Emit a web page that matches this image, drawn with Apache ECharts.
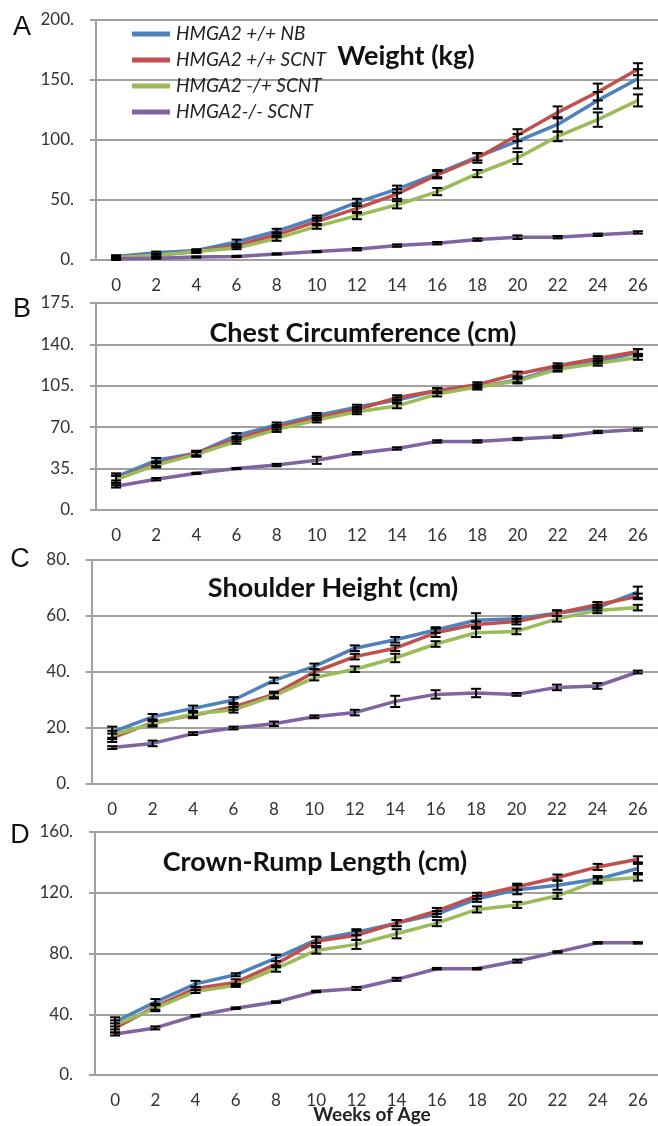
<!DOCTYPE html>
<html>
<head>
<meta charset="utf-8">
<script src="https://cdn.jsdelivr.net/npm/echarts@6/dist/echarts.min.js"></script>
<style>html,body{margin:0;padding:0;background:#fff;}#c{width:658px;height:1126px;}</style>
</head>
<body>
<div id="c"></div>
<script>
const weeks = ['0','2','4','6','8','10','12','14','16','18','20','22','24','26'];
const seriesNames = ['HMGA2 +/+ NB','HMGA2 +/+ SCNT','HMGA2 -/+ SCNT','HMGA2-/- SCNT'];
const colors = ['#4F81BD','#C0504D','#9BBB59','#8064A2'];

// Panel A: Weight (kg)
const weightNB     = [3,6,8,15,24,35,48,59,72,86,99,113,133,151];
const weightSCNT   = [2,4,7,12,21,32,43,55,71,85,104,123,140,159];
const weightHet    = [2,4,7,10,18,28,37,46,57,72,85,103,117,133];
const weightKO     = [1,1.5,2.5,3,5,7,9,12,14,17,19,19,21,23];
const weightNBErr   = [1,1,1,2,2,2,3,3,3,3,6,6,7,8];
const weightSCNTErr = [1,1,1,1,2,3,4,4,3,4,5,5,7,5];
const weightHetErr  = [1,1,1,1,2,2,3,3,3,3,5,4,6,5];
const weightKOErr   = [1,0.5,0.5,0.5,0.5,0.5,1,1,1,1,1.5,1,1,1];

// Panel B: Chest Circumference (cm)
const chestNB     = [28,42,48,63,72,80,87,93,101,104,110,120,126,133];
const chestSCNT   = [26,39,48,60,70,78,85,95,101,106,115,122,128,134];
const chestHet    = [26,38,47,58,68,76,83,88,98,104,109,119,124,129];
const chestKO     = [20,26,31,35,38,42,48,52,58,58,60,62,66,68];
const chestNBErr   = [3,2,2,2,2,2,2,2,2,2,2,2,2,3];
const chestSCNTErr = [3,2,2,2,2,2,2,2,2,2,2,2,2,2];
const chestHetErr  = [3,2,2,2,2,2,2,2,2,2,2,2,2,2];
const chestKOErr   = [1,1,0.5,0.5,1,3,1,1,1,1,1,1,1,1];

// Panel C: Shoulder Height (cm)
const shoulderNB     = [18.5,24,27,30,37,42,48.5,51.5,55,58.5,59,61,63,68.5];
const shoulderSCNT   = [16.5,22,24.5,27.5,32,40,45.5,48.5,54,57,58,61,64,67];
const shoulderHet    = [17.5,21.5,25,26.5,31.5,38,41,45,50,54,54.5,59,62,63];
const shoulderKO     = [13,14.5,18,20,21.5,24,25.5,29.5,32,32.5,32,34.5,35,40];
const shoulderNBErr   = [2,1,1,1,1,1,1,1,1,2.5,1,1,1,2];
const shoulderSCNTErr = [1.5,1,1,1,1,1,1,1,1.5,1,1,1,1,1];
const shoulderHetErr  = [1.5,1,1,1,1,1,1,1.5,1,1.5,1,1,1,1];
const shoulderKOErr   = [0.5,1,0.5,0.5,0.8,0.5,1,2,1.5,1.5,0.5,1,1,0.5];

// Panel D: Crown-Rump Length (cm)
const crownNB     = [35,48,60,66,77,89,94,100,106,116,122,125,129,136];
const crownSCNT   = [31,45,57,61,73,88,92,100,108,118,124,130,137,142];
const crownHet    = [33,44,55,59,70,82,86,93,100,109,112,118,128,130];
const crownKO     = [27,31,39,44,48,55,57,63,70,70,75,81,87,87];
const crownNBErr   = [3,2,2,1,2,2,2,2,2,2,3,3,2,3];
const crownSCNTErr = [3,2,1,2,2,3,3,2,2,2,2,2,2,2];
const crownHetErr  = [3,2,1,1,2,2,3,3,2,2,2,2,2,2];
const crownKOErr   = [1,1,0.5,0.5,0.5,0.5,1,1,0.5,0.5,1,0.5,0.5,0.5];

const yMax = [200,175,80,160];
const yInterval = [50,35,20,40];
const titles = ['Weight (kg)','Chest Circumference (cm)','Shoulder Height (cm)','Crown-Rump Length (cm)'];
const panelLetters = ['A','B','C','D'];
const xTitle = 'Weeks of Age';

const panels = [
  {vals:[weightNB,weightSCNT,weightHet,weightKO], errs:[weightNBErr,weightSCNTErr,weightHetErr,weightKOErr]},
  {vals:[chestNB,chestSCNT,chestHet,chestKO], errs:[chestNBErr,chestSCNTErr,chestHetErr,chestKOErr]},
  {vals:[shoulderNB,shoulderSCNT,shoulderHet,shoulderKO], errs:[shoulderNBErr,shoulderSCNTErr,shoulderHetErr,shoulderKOErr]},
  {vals:[crownNB,crownSCNT,crownHet,crownKO], errs:[crownNBErr,crownSCNTErr,crownHetErr,crownKOErr]}
];

const gridBoxes = [
  {left:96, top:20, width:567, height:240},
  {left:96, top:303, width:567, height:207},
  {left:92, top:560, width:567, height:224},
  {left:95, top:832, width:567, height:243}
];
const titlePos = [[406,56],[363,333],[333,588],[315,862]];
const letterPos = [[22,28],[22,310],[20,560],[20,836]];

const gray = '#a0a0a0';
const font = 'Lato, "Open Sans", sans-serif';

const xAxes = [], yAxes = [], series = [], graphics = [];
panels.forEach((p, k) => {
  xAxes.push({
    type:'category', gridIndex:k, data:weeks, boundaryGap:true,
    axisLine:{lineStyle:{color:gray,width:2}},
    axisTick:{length:6,lineStyle:{color:gray,width:2}},
    axisLabel:{interval:0,fontSize:17,color:'#333',fontFamily:font,margin:17},
    splitLine:{show:false}
  });
  yAxes.push({
    type:'value', gridIndex:k, min:0, max:yMax[k], interval:yInterval[k],
    axisLine:{show:true,lineStyle:{color:gray,width:2}},
    axisTick:{show:true,length:6,lineStyle:{color:gray,width:2}},
    axisLabel:{fontSize:17,color:'#333',fontFamily:font,margin:22,formatter:v=>v+'.'},
    splitLine:{lineStyle:{color:gray,width:2}}
  });
  p.vals.forEach((v, s) => {
    series.push({
      type:'line', name:seriesNames[s], xAxisIndex:k, yAxisIndex:k,
      data:v, symbol:'none', smooth:false, z:2+s*0.1,
      lineStyle:{color:colors[s],width:3.5}, itemStyle:{color:colors[s]}
    });
  });
  p.vals.forEach((v, s) => {
    const e = p.errs[s];
    series.push({
      type:'custom', name:'err'+k+'_'+s, xAxisIndex:k, yAxisIndex:k, z:5,
      data:v.map((val,i)=>[i, val-e[i], val+e[i]]),
      encode:{x:0,y:[1,2]},
      renderItem:function(params, api){
        const x = api.value(0);
        const lo = api.coord([x, api.value(1)]);
        const hi = api.coord([x, api.value(2)]);
        const w = 5;
        const st = {stroke:'#000', lineWidth:2};
        return {type:'group', children:[
          {type:'line', shape:{x1:lo[0],y1:lo[1],x2:hi[0],y2:hi[1]}, style:st},
          {type:'line', shape:{x1:lo[0]-w,y1:lo[1],x2:lo[0]+w,y2:lo[1]}, style:st},
          {type:'line', shape:{x1:hi[0]-w,y1:hi[1],x2:hi[0]+w,y2:hi[1]}, style:st}
        ]};
      },
      silent:true, tooltip:{show:false}
    });
  });
  graphics.push({type:'text', x:titlePos[k][0], y:titlePos[k][1], z:10,
    style:{text:titles[k], fontFamily:font, fontWeight:'bold', fontSize:27, fill:'#111', textAlign:'center', textVerticalAlign:'middle'}});
  graphics.push({type:'text', x:letterPos[k][0], y:letterPos[k][1], z:10,
    style:{text:panelLetters[k], fontFamily:'"Liberation Sans", sans-serif', fontSize:27, fill:'#111', textAlign:'center', textVerticalAlign:'middle'}});
});
graphics.push({type:'text', x:372, y:1115, z:10,
  style:{text:xTitle, fontFamily:font, fontWeight:'bold', fontSize:19, fill:'#222', textAlign:'center', textVerticalAlign:'middle'}});

const chart = echarts.init(document.getElementById('c'), null, {renderer:'canvas'});
chart.setOption({
  animation:false,
  backgroundColor:'#fff',
  grid: gridBoxes,
  xAxis: xAxes,
  yAxis: yAxes,
  legend:{
    data: seriesNames.map((n,i)=>({name:n, icon:'rect', itemStyle:{color:colors[i]}})),
    orient:'vertical', left:132, top:24, padding:0, itemWidth:38, itemHeight:5, itemGap:6,
    textStyle:{fontFamily:font, fontStyle:'italic', fontSize:19, color:'#222', lineHeight:20, padding:[0,0,0,1]}
  },
  graphic: graphics,
  series: series
});
</script>
</body>
</html>
